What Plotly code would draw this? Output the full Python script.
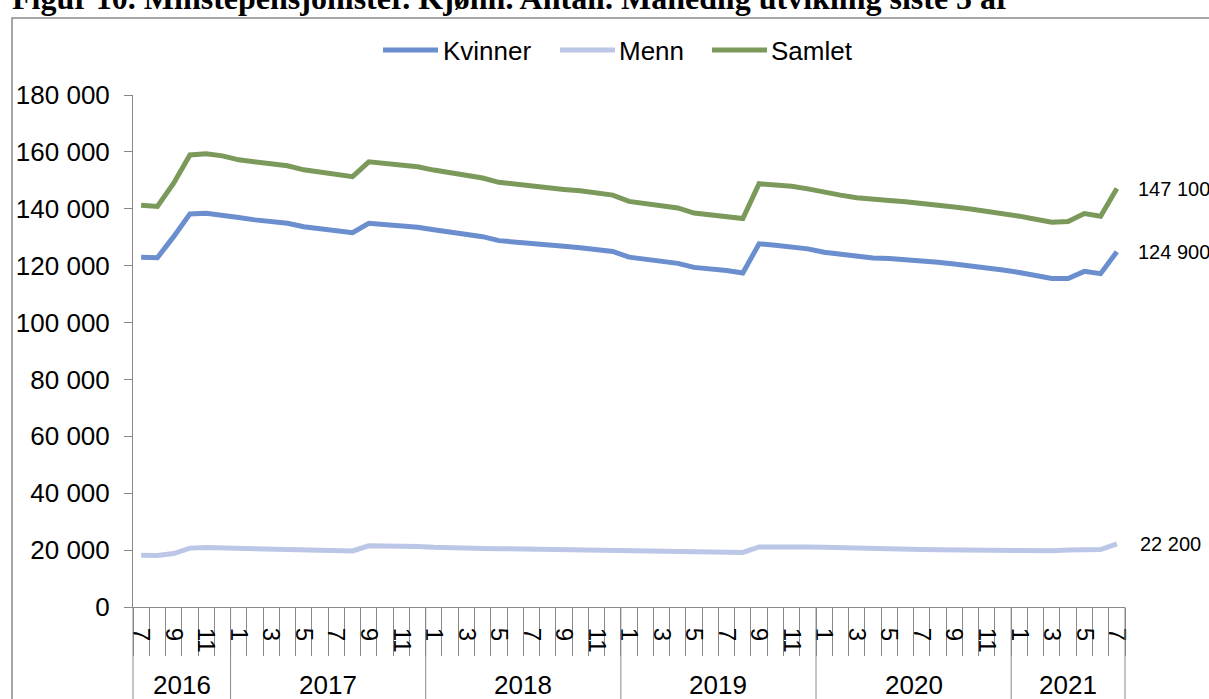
import plotly.graph_objects as go

# ---------------- data ----------------
years = [2016] * 6 + [2017] * 12 + [2018] * 12 + [2019] * 12 + [2020] * 12 + [2021] * 7
months = ([7, 8, 9, 10, 11, 12] + list(range(1, 13)) * 4 + [1, 2, 3, 4, 5, 6, 7])

kvinner = [123000, 122800, 130200, 138200, 138400, 137800,
           136900, 136100, 135500, 134900, 133700, 133100, 132500, 131600, 134900, 134500, 134100, 133500,
           132600, 131700, 131000, 130200, 128800, 128200, 127800, 127300, 126800, 126300, 125700, 125000,
           123000, 122400, 121700, 120800, 119400, 118900, 118300, 117400, 127700, 127200, 126700, 125900,
           124700, 124000, 123300, 122700, 122500, 122200, 121800, 121200, 120600, 120000, 119400, 118500,
           117600, 116500, 115500, 115500, 118000, 117200, 124900]
menn = [18200, 18100, 18800, 20700, 20900, 20800,
        20300, 20300, 20300, 20200, 20000, 19900, 19700, 19700, 21500, 21500, 21300, 21300,
        21000, 21000, 20800, 20600, 20500, 20400, 20200, 20100, 20000, 20000, 19900, 19800,
        19600, 19500, 19500, 19500, 19100, 19100, 19100, 19200, 21100, 21200, 21200, 21100,
        21000, 20800, 20600, 20500, 20400, 20300, 20200, 20100, 20000, 19900, 19800, 19900,
        19800, 19800, 19800, 20000, 20300, 20200, 22200]
samlet = [141200, 140800, 149000, 158900, 159300, 158600,
          157200, 156400, 155800, 155100, 153700, 153000, 152200, 151300, 156500, 156000, 155400, 154800,
          153600, 152700, 151800, 150800, 149300, 148600, 148000, 147400, 146800, 146300, 145600, 144800,
          142600, 141900, 141200, 140300, 138500, 138000, 137400, 136600, 148800, 148400, 147900, 147000,
          145700, 144800, 143900, 143200, 142900, 142500, 142000, 141300, 140600, 139900, 139200, 138400,
          137400, 136300, 135300, 135500, 138300, 137400, 147100]

series_names = ["Kvinner", "Menn", "Samlet"]
end_labels = ["124 900", "22 200", "147 100"]
y_ticks = [0, 20000, 40000, 60000, 80000, 100000, 120000, 140000, 160000, 180000]
title_text = "Figur 10. Minstepensjonister. Kjønn. Antall. Månedlig utvikling siste 5 år"

# ---------------- styling ----------------
W, H = 1209, 699
ML, MR, MT, MB = 133, 84, 95, 92
PW, PH = W - ML - MR, H - MT - MB
colors = ["#6A8ECE", "#BCC6E6", "#7A995A"]
axis_gray = "#898989"
sans = "Liberation Sans, Arial, sans-serif"

n = len(months)
x = list(range(n))
XMIN, XMAX = -0.5, n - 0.5


def px_x(p):
    return (p - ML) / PW


def px_y(p):
    return (H - MB - p) / PH


def xpaper(v):
    return (v - XMIN) / (XMAX - XMIN)


fig = go.Figure()
for name, vals, col in zip(series_names, [kvinner, menn, samlet], colors):
    fig.add_trace(go.Scatter(x=x, y=vals, mode="lines", name=name,
                             line=dict(color=col, width=5), showlegend=False,
                             hoverinfo="skip"))

shapes = []
annotations = []

# year separator lines and year labels
year_starts = [0] + [i for i in range(1, n) if years[i] != years[i - 1]] + [n]
for k in year_starts:
    xp = xpaper(k - 0.5)
    shapes.append(dict(type="line", xref="paper", yref="paper", x0=xp, x1=xp,
                       y0=0, y1=px_y(710), line=dict(color=axis_gray, width=1)))
for a, b in zip(year_starts[:-1], year_starts[1:]):
    xc = xpaper((a - 0.5 + b - 0.5) / 2)
    annotations.append(dict(xref="paper", yref="paper", x=xc, y=px_y(685),
                            text=str(years[a]), showarrow=False,
                            font=dict(family=sans, size=26, color="black"),
                            xanchor="center", yanchor="middle"))

# end-of-series labels
shifts = [19, 21, 19]
for vals, lab, sh in zip([kvinner, menn, samlet], end_labels, shifts):
    annotations.append(dict(x=x[-1], y=vals[-1], xref="x", yref="y", text=lab,
                            showarrow=False, xanchor="left", yanchor="middle",
                            xshift=sh, font=dict(family=sans, size=20, color="black")))

# custom legend
leg = [(383, 438, 441), (560, 615, 617), (712, 767, 769)]
for (l0, l1, tx), name, col in zip(leg, series_names, colors):
    shapes.append(dict(type="line", xref="paper", yref="paper",
                       x0=px_x(l0), x1=px_x(l1), y0=px_y(50), y1=px_y(50),
                       line=dict(color=col, width=5)))
    annotations.append(dict(xref="paper", yref="paper", x=px_x(tx), y=px_y(51),
                            text=name, showarrow=False, xanchor="left", yanchor="middle",
                            font=dict(family=sans, size=26, color="black")))

# outer frame
shapes.append(dict(type="rect", xref="paper", yref="paper",
                   x0=px_x(12), x1=px_x(1230), y0=px_y(720), y1=px_y(18),
                   line=dict(color=axis_gray, width=1.5), fillcolor="rgba(0,0,0,0)"))

# title (cut at the top as in the reference)
annotations.append(dict(xref="paper", yref="paper", x=px_x(10), y=px_y(-2),
                        text="<b>" + title_text + "</b>", showarrow=False,
                        xanchor="left", yanchor="middle",
                        font=dict(family="Liberation Serif, Times New Roman, serif",
                                  size=32, color="black")))

tick_idx = [i for i in range(n) if months[i] % 2 == 1]

fig.update_layout(
    width=W, height=H,
    margin=dict(l=ML, r=MR, t=MT, b=MB, pad=0),
    paper_bgcolor="white", plot_bgcolor="white",
    separators=", ",
    shapes=shapes, annotations=annotations,
    showlegend=False,
    xaxis=dict(range=[XMIN, XMAX], tickmode="array", tickvals=tick_idx,
               ticktext=[str(months[i]) for i in tick_idx],
               tickangle=90, ticks="", showgrid=False, zeroline=False,
               showline=True, linecolor=axis_gray, linewidth=1,
               tickfont=dict(family=sans, size=24, color="black"),
               ticklabelstandoff=15,
               minor=dict(tickmode="linear", tick0=-0.5, dtick=1, ticks="outside",
                          ticklen=48, tickcolor=axis_gray, tickwidth=1, showgrid=False)),
    yaxis=dict(range=[0, 180000], tickmode="array", tickvals=y_ticks, tickformat=",d",
               ticks="outside", ticklen=8, tickcolor=axis_gray, showgrid=False,
               zeroline=False, showline=True, linecolor=axis_gray, linewidth=1,
               tickfont=dict(family=sans, size=26, color="black"),
               ticklabelstandoff=9),
)

fig.write_html("out.html", config={"displayModeBar": False},
               post_script="document.body.style.margin='0';document.body.style.overflow='hidden';")
